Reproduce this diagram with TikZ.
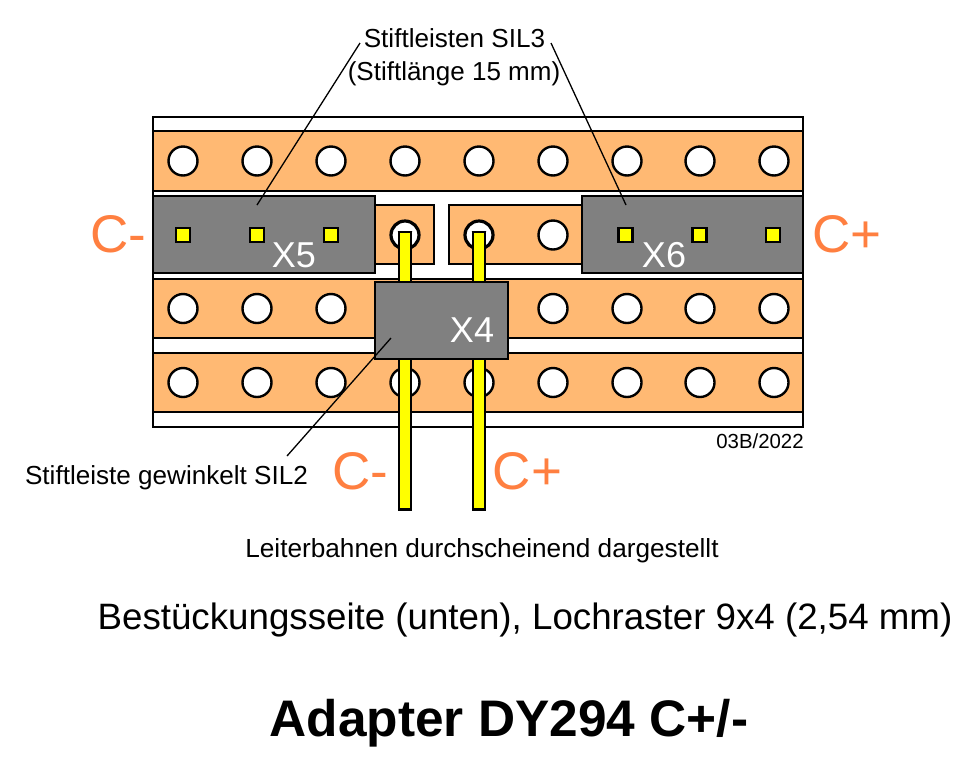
\documentclass[tikz,border=0pt]{standalone}
\usepackage{fontspec}
\setmainfont{Liberation Sans}
\definecolor{copper}{HTML}{FFB973}
\definecolor{plug}{HTML}{808080}
\definecolor{accent}{HTML}{FF7F40}
\definecolor{pinY}{HTML}{FFFF00}
\definecolor{capY}{HTML}{E8C020}
\newcommand{\fs}[1]{\fontsize{#1}{#1}\selectfont}
\tikzset{
  board/.style={draw=black,line width=2pt,fill=white},
  strip/.style={draw=black,line width=2pt,fill=copper},
  hole/.style={circle,draw=black,line width=2.4pt,fill=white,minimum size=29pt,inner sep=0pt},
  viahole/.style={circle,draw=black,line width=3.2pt,fill=white,minimum size=28pt,inner sep=0pt},
  header/.style={draw=black,line width=2.4pt,fill=plug},
  pad/.style={draw=black,line width=2.4pt,fill=pinY,minimum size=14pt,inner sep=0pt},
  pinbar/.style={draw=black,line width=2.2pt,fill=pinY},
  pincap/.style={draw=black,line width=1.5pt,fill=capY},
  leader/.style={draw=black,line width=1.3pt},
  lbl/.style={inner sep=0pt,anchor=base,text=black},
  sign/.style={inner sep=0pt,anchor=base,text=accent,font=\fs{53}},
  plugname/.style={inner sep=0pt,anchor=base,text=white,font=\fs{36}}
}
\begin{document}
\begin{tikzpicture}[x=1pt,y=-1pt]
\useasboundingbox (0,0) rectangle (977,772);
% board and strips
\draw[board] (153,117) rectangle (803,427);
\draw[strip] (153,131) rectangle (803,191);
\draw[strip] (153,279) rectangle (803,338);
\draw[strip] (153,353) rectangle (803,412);
\draw[strip] (360,205) rectangle (434,264);
\draw[strip] (449,205) rectangle (600,264);
% holes
\foreach \hx in {183,257,331,405,479,553,627,700,774}{
  \node[hole] (ha\hx) at (\hx,161) {};
  \node[hole] (hd\hx) at (\hx,382.5) {};
}
\foreach \hx in {183,257,331,553,627,700,774}{
  \node[hole] (hc\hx) at (\hx,308.5) {};
}
\node[hole] (hb553) at (553,235) {};
\node[viahole] (via1) at (405,235) {};
\node[viahole] (via2) at (479,235) {};
% pin heads and pins
\draw[pincap] (399,232) arc[start angle=180,end angle=0,x radius=6,y radius=4.5] -- cycle;
\draw[pincap] (473,232) arc[start angle=180,end angle=0,x radius=6,y radius=4.5] -- cycle;
\draw[pinbar] (399,232) rectangle (411,509.5);
\draw[pinbar] (473,232) rectangle (485,509.5);
% plugs
\draw[header] (153,196) rectangle (375,273);
\draw[header] (582,196) rectangle (803,273);
\draw[header] (375,282) rectangle (508,359);
% pads
\node[pad] (p1) at (183,235) {};
\node[pad] (p2) at (257,235) {};
\node[pad] (p3) at (331,235) {};
\node[pad] (p4) at (625.5,235) {};
\node[pad] (p5) at (699.5,235) {};
\node[pad] (p6) at (773,235) {};
% plug names
\node[plugname] (x5) at (294,267) {X5};
\node[plugname] (x6) at (664,267) {X6};
\node[plugname] (x4) at (472,342) {X4};
% signs
\node[sign] (cm1) at (118.5,252.5) {C-};
\node[sign] (cp1) at (847,252.5) {C+};
\node[sign] (cm2) at (360,489.5) {C-};
\node[sign] (cp2) at (527.5,489.5) {C+};
% labels
\node[lbl,font=\fs{26.1}] (t1) at (454.5,47) {Stiftleisten SIL3};
\node[lbl,font=\fs{26}] (t2) at (454,80.5) {(Stiftlänge 15 mm)};
\node[lbl,font=\fs{26.1}] (t3) at (166.5,484) {Stiftleiste gewinkelt SIL2};
\node[lbl,font=\fs{20.4}] (t4) at (760,448) {03B/2022};
\node[lbl,font=\fs{26.2}] (t5) at (482,557) {Leiterbahnen durchscheinend dargestellt};
\node[lbl,font=\fs{36.7}] (t6) at (525,629) {Bestückungsseite (unten), Lochraster 9x4 (2,54 mm)};
\node[lbl,font=\fs{51.4}\bfseries] (t7) at (509,736) {Adapter DY294 C+/-};
% leaders
\coordinate (la) at (360,43);
\coordinate (lb) at (257,205);
\coordinate (lc) at (551,43);
\coordinate (ld) at (626,205);
\coordinate (le) at (391,338);
\coordinate (lf) at (287,456);
\draw[leader] (la) -- (lb);
\draw[leader] (lc) -- (ld);
\draw[leader] (le) -- (lf);
\end{tikzpicture}
\end{document}
